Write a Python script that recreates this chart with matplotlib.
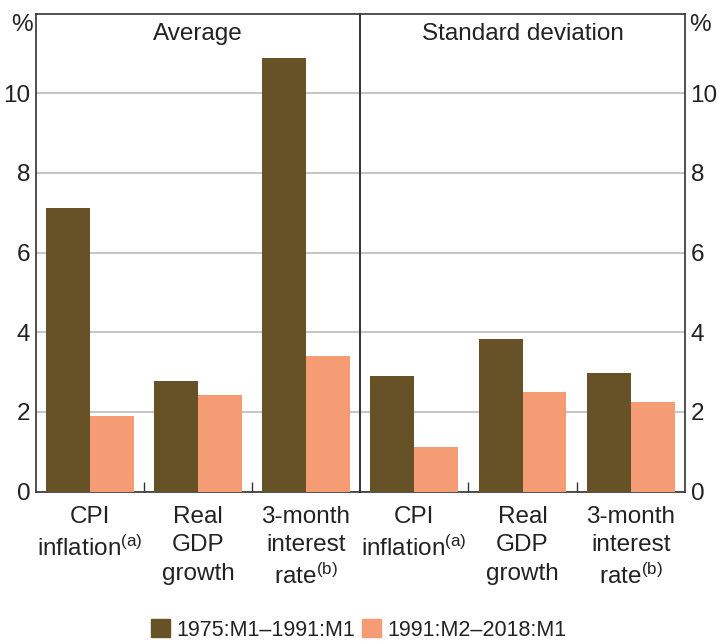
import numpy as np
import matplotlib.pyplot as plt
from matplotlib.patches import Patch

plt.rcParams['font.family'] = ['Liberation Sans', 'DejaVu Sans']
plt.rcParams['mathtext.fontset'] = 'custom'
plt.rcParams['mathtext.rm'] = 'Liberation Sans'
plt.rcParams['mathtext.it'] = 'Liberation Sans'

# ------------------ DATA ------------------
panels = ["Average", "Standard deviation"]
categories = ["CPI\ninflation$^{\\mathrm{(a)}}$", "Real\nGDP\ngrowth",
              "3-month\ninterest\nrate$^{\\mathrm{(b)}}$"]
series = ["1975:M1\u20131991:M1", "1991:M2\u20132018:M1"]
avg_early = [7.13, 2.78, 10.88]
avg_late = [1.90, 2.43, 3.41]
sd_early = [2.90, 3.84, 2.99]
sd_late = [1.11, 2.51, 2.24]
yticks = [0, 2, 4, 6, 8, 10]

colors = ["#665226", "#F69C74"]
text_col = "#222222"
fs = 17.5

# ------------------ FIGURE ------------------
fig = plt.figure(figsize=(7.17, 6.41), dpi=100)
W, H = 717, 641
bottom = (H - 491.7) / H
height = (491.7 - 13.5) / H
ax1 = fig.add_axes([36 / W, bottom, 324 / W, height])
ax2 = fig.add_axes([360 / W, bottom, 325 / W, height])

x = np.arange(len(categories))
bw = 0.405
for ax, title, early, late in [(ax1, panels[0], avg_early, avg_late),
                               (ax2, panels[1], sd_early, sd_late)]:
    ax.bar(x - bw / 2, early, bw, color=colors[0], zorder=3)
    ax.bar(x + bw / 2, late, bw, color=colors[1], zorder=3)
    ax.set_xlim(-0.5, 2.5)
    ax.set_ylim(0, 12)
    ax.set_yticks(yticks)
    ax.yaxis.grid(True, color="#b5b5b5", linewidth=1.1, zorder=0)
    ax.set_axisbelow(True)
    # group separators
    ax.set_xticks([0.5, 1.5])
    ax.set_xticklabels([])
    ax.tick_params(axis="x", which="major", direction="in", length=7,
                   width=1, color="#333333")
    ax.set_xticks(x, minor=True)
    ax.set_xticklabels(categories, minor=True, fontsize=fs, color=text_col,
                       linespacing=1.38)
    ax.tick_params(axis="x", which="minor", length=0, pad=10)
    ax.tick_params(axis="y", length=0, labelsize=fs, labelcolor=text_col)
    for s in ax.spines.values():
        s.set_color("#333333")
        s.set_linewidth(1.2)
    ax.text(0.5, 0.958, title, transform=ax.transAxes, ha="center",
            va="center", fontsize=fs, color=text_col)

ax1.tick_params(axis="y", pad=4)
ax2.yaxis.tick_right()
ax2.tick_params(axis="y", length=0, pad=4)
ax2.spines["left"].set_linewidth(1.4)
ax1.spines["right"].set_visible(False)

fig.text(22 / W, 1 - 25 / H, "%", ha="center", va="center", fontsize=fs,
         color=text_col)
fig.text(700 / W, 1 - 25 / H, "%", ha="center", va="center", fontsize=fs,
         color=text_col)

handles = [Patch(color=colors[0], label=series[0]),
           Patch(color=colors[1], label=series[1])]
fig.legend(handles=handles, loc="center", bbox_to_anchor=(0.5, 1 - 630 / H),
           ncol=2, frameon=False, fontsize=15.5, handlelength=0.9,
           handleheight=0.9, handletextpad=0.3, columnspacing=0.3,
           labelcolor=text_col)

fig.savefig("out.png", dpi=100)
